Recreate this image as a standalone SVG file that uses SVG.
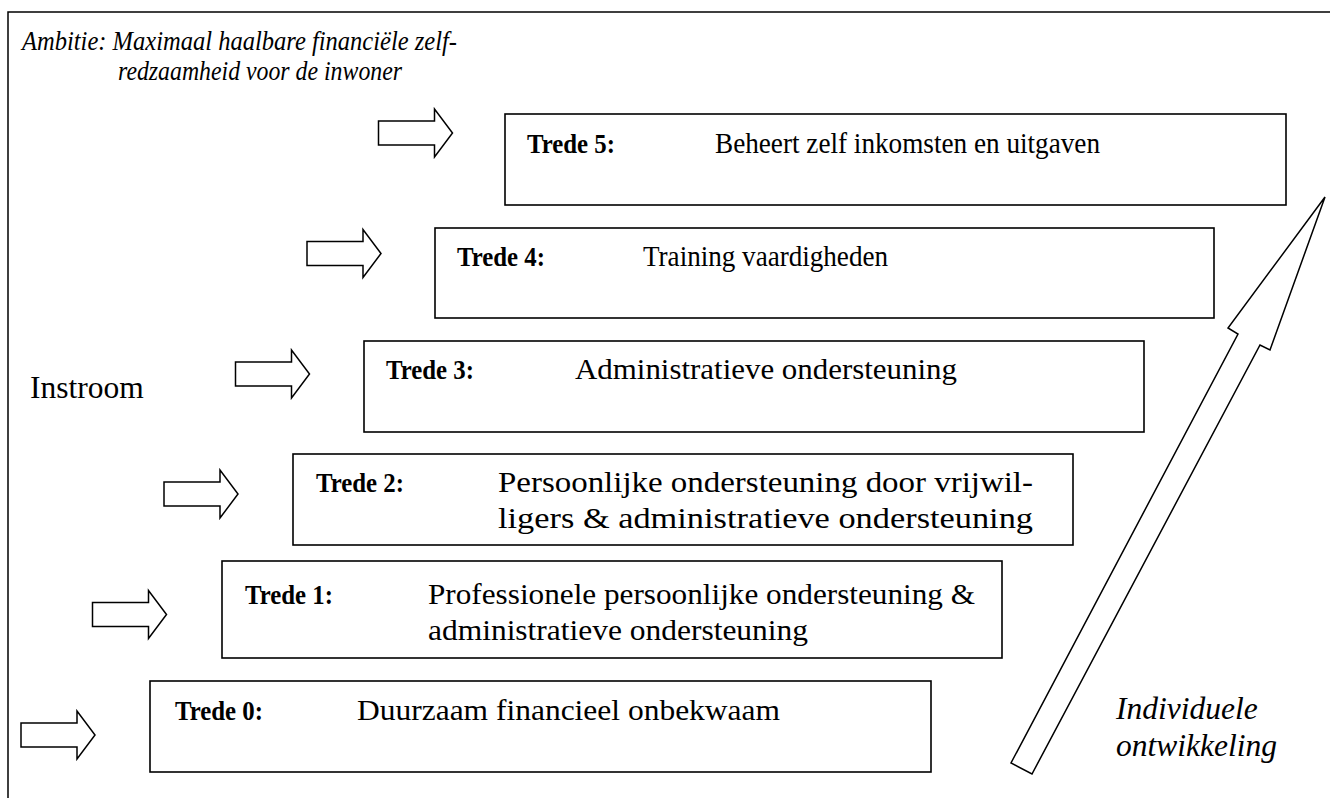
<svg xmlns="http://www.w3.org/2000/svg" width="1330" height="798" viewBox="0 0 1330 798">
<defs>
<style>
.frame{stroke:#000;stroke-width:1.5;fill:none}
.box{fill:#fff;stroke:#000;stroke-width:1.6}
.arr{fill:#fff;stroke:#000;stroke-width:1.5;stroke-linejoin:miter}
.t{font-family:"Liberation Serif",serif;font-size:30px;fill:#000}
.b{font-weight:bold;font-size:28px}
.i{font-style:italic}
.ti{font-size:28px}
.big{font-size:31.5px}
</style>
<path id="sa" class="arr" d="M0,-12 H56 V-24 L74,0 L56,24 V12 H0 Z"/>
</defs>
<rect width="1330" height="798" fill="#fff"/>
<g id="frame">
<path class="frame" d="M8,798 V12 H1330"/>
</g>
<g id="title">
<text class="t i ti" x="22" y="50" textLength="435" lengthAdjust="spacingAndGlyphs">Ambitie: Maximaal haalbare financiële zelf-</text>
<text class="t i ti" x="118" y="80" textLength="284" lengthAdjust="spacingAndGlyphs">redzaamheid voor de inwoner</text>
</g>
<g id="instroom">
<text class="t big" x="30" y="398">Instroom</text>
</g>
<g id="connectors">
<use href="#sa" x="21" y="735"/>
<use href="#sa" x="92.5" y="614.5"/>
<use href="#sa" x="164" y="494"/>
<use href="#sa" x="235.5" y="374"/>
<use href="#sa" x="307" y="253.5"/>
<use href="#sa" x="378.5" y="133"/>
<polygon class="arr" points="1325,197 1270,350 1260,345 1032,774 1011,763 1238,334 1228,328"/>
</g>
<g id="trede5">
<rect class="box" x="505" y="114" width="781" height="91"/>
<text class="t b" x="527" y="153" textLength="88" lengthAdjust="spacingAndGlyphs">Trede 5:</text>
<text class="t" x="715" y="153" textLength="385" lengthAdjust="spacingAndGlyphs">Beheert zelf inkomsten en uitgaven</text>
</g>
<g id="trede4">
<rect class="box" x="435" y="228" width="779" height="90"/>
<text class="t b" x="457" y="266" textLength="88" lengthAdjust="spacingAndGlyphs">Trede 4:</text>
<text class="t" x="643" y="266" textLength="245" lengthAdjust="spacingAndGlyphs">Training vaardigheden</text>
</g>
<g id="trede3">
<rect class="box" x="364" y="341" width="780" height="91"/>
<text class="t b" x="386" y="379" textLength="88" lengthAdjust="spacingAndGlyphs">Trede 3:</text>
<text class="t" x="575" y="379" textLength="382" lengthAdjust="spacingAndGlyphs">Administratieve ondersteuning</text>
</g>
<g id="trede2">
<rect class="box" x="293" y="454" width="780" height="91"/>
<text class="t b" x="316" y="492" textLength="88" lengthAdjust="spacingAndGlyphs">Trede 2:</text>
<text class="t" x="498" y="492" textLength="535" lengthAdjust="spacingAndGlyphs">Persoonlijke ondersteuning door vrijwil-</text>
<text class="t" x="498" y="528" textLength="535" lengthAdjust="spacingAndGlyphs">ligers &amp; administratieve ondersteuning</text>
</g>
<g id="trede1">
<rect class="box" x="222" y="561" width="780" height="97"/>
<text class="t b" x="245" y="604" textLength="88" lengthAdjust="spacingAndGlyphs">Trede 1:</text>
<text class="t" x="428" y="604" textLength="547" lengthAdjust="spacingAndGlyphs">Professionele persoonlijke ondersteuning &amp;</text>
<text class="t" x="428" y="640" textLength="380" lengthAdjust="spacingAndGlyphs">administratieve ondersteuning</text>
</g>
<g id="trede0">
<rect class="box" x="150" y="681" width="781" height="91"/>
<text class="t b" x="175" y="720" textLength="88" lengthAdjust="spacingAndGlyphs">Trede 0:</text>
<text class="t" x="357" y="720" textLength="423" lengthAdjust="spacingAndGlyphs">Duurzaam financieel onbekwaam</text>
</g>
<g id="ontwikkeling">
<text class="t i big" x="1116" y="719">Individuele</text>
<text class="t i big" x="1116" y="756">ontwikkeling</text>
</g>
</svg>
